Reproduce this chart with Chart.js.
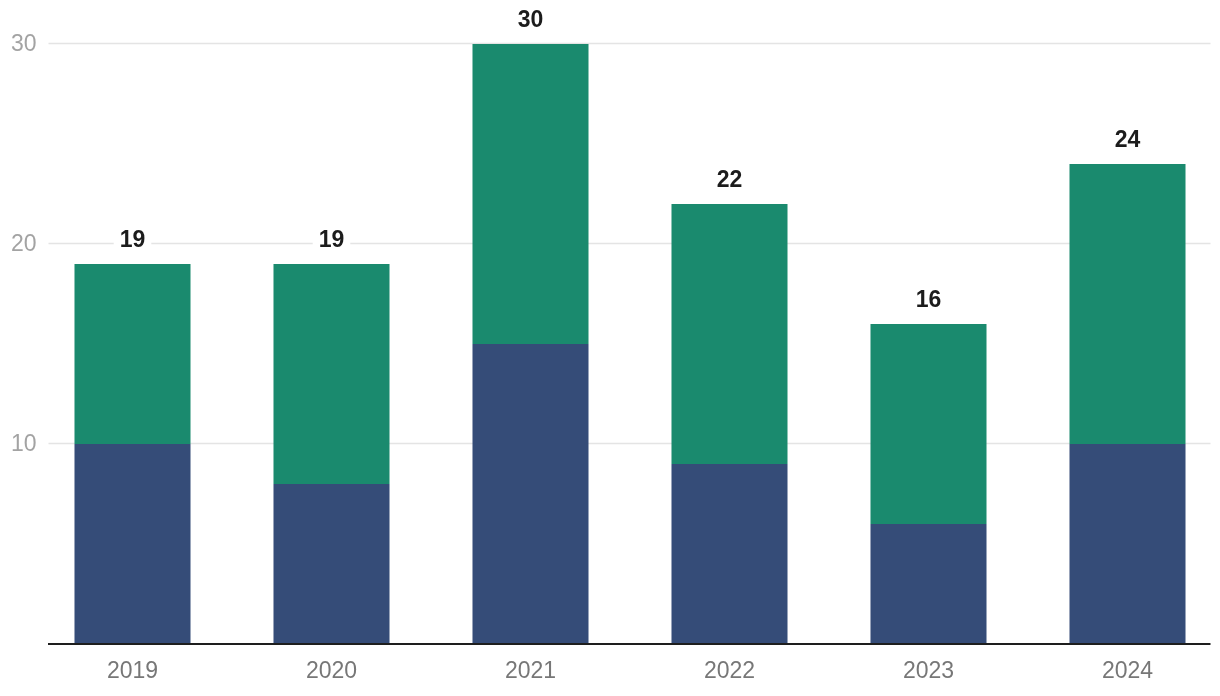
<!DOCTYPE html>
<html>
<head>
<meta charset="utf-8">
<script src="https://cdn.jsdelivr.net/npm/chart.js@4"></script>
<style>
  html, body { margin: 0; padding: 0; background: #fff; overflow: hidden; }
  #wrap { position: relative; width: 1227px; height: 696px; }
</style>
</head>
<body>
<div id="wrap"><canvas id="barChart"></canvas></div>
<script>
// Dados do gráfico
const years = ["2019", "2020", "2021", "2022", "2023", "2024"];
const baseValues = [10, 8, 15, 9, 6, 10];
const topValues = [9, 11, 15, 13, 10, 14];
const yTicks = [10, 20, 30];

const FONT = "'Helvetica Neue', Helvetica, Arial, 'Liberation Sans', sans-serif";
const totals = years.map((_, i) => baseValues[i] + topValues[i]);

// Linhas de grade, rótulos do eixo y e eixo desenhados à mão
const gridPlugin = {
  id: "gridPlugin",
  beforeDatasetsDraw(chart) {
    const { ctx, chartArea, scales } = chart;
    const x0 = chartArea.left + 15.5, x1 = chartArea.right - 16.5;
    ctx.save();
    ctx.strokeStyle = "#e4e4e4";
    ctx.lineWidth = 1.4;
    ctx.font = "23px " + FONT;
    ctx.fillStyle = "#a3a3a3";
    ctx.textAlign = "right";
    ctx.textBaseline = "middle";
    yTicks.forEach(v => {
      const y = Math.round(scales.y.getPixelForValue(v)) - 0.5;
      ctx.beginPath();
      ctx.moveTo(x0, y);
      ctx.lineTo(x1, y);
      ctx.stroke();
      ctx.fillText(String(v), chartArea.left + 3.5, y + 1);
    });
    ctx.restore();
  },
  afterDatasetsDraw(chart) {
    const { ctx, chartArea, scales } = chart;
    const x0 = chartArea.left + 15, x1 = chartArea.right - 16.5;
    ctx.save();
    ctx.strokeStyle = "#1e1e1e";
    ctx.lineWidth = 2;
    const y = scales.y.getPixelForValue(0);
    ctx.beginPath();
    ctx.moveTo(x0, y);
    ctx.lineTo(x1, y);
    ctx.stroke();

    // Totais acima das barras
    ctx.font = "bold 23px " + FONT;
    ctx.textAlign = "center";
    ctx.textBaseline = "middle";
    totals.forEach((t, i) => {
      const x = scales.x.getPixelForValue(i);
      const yy = scales.y.getPixelForValue(t) - 24;
      const w = ctx.measureText(String(t)).width;
      ctx.fillStyle = "#ffffff";
      ctx.fillRect(x - w / 2 - 6, yy - 12, w + 12, 24);
      ctx.fillStyle = "#1c1c1c";
      ctx.fillText(String(t), x, yy + 1);
    });
    ctx.restore();
  }
};

const ctx = document.getElementById("barChart").getContext("2d");
const barChart = new Chart(ctx, {
  type: "bar",
  data: {
    labels: years,
    datasets: [
      {
        label: "Base",
        data: baseValues,
        backgroundColor: "#354c78",
        barPercentage: 0.583,
        categoryPercentage: 1
      },
      {
        label: "Topo",
        data: topValues,
        backgroundColor: "#1a8a6e",
        barPercentage: 0.583,
        categoryPercentage: 1
      }
    ]
  },
  options: {
    responsive: true,
    maintainAspectRatio: false,
    animation: false,
    layout: { padding: { top: 44, right: 0, left: 0, bottom: 0 } },
    plugins: {
      legend: { display: false },
      tooltip: { enabled: false }
    },
    scales: {
      x: {
        stacked: true,
        grid: { display: false, drawTicks: false },
        border: { display: false },
        ticks: {
          color: "#777777",
          font: { family: FONT, size: 23 },
          padding: 14
        },
        afterFit(scale) { scale.height = 52; }
      },
      y: {
        stacked: true,
        min: 0,
        max: 30,
        grid: { display: false, drawTicks: false },
        border: { display: false },
        ticks: { display: false, stepSize: 10 },
        afterFit(scale) { scale.width = 33; }
      }
    }
  },
  plugins: [gridPlugin]
});
</script>
</body>
</html>
